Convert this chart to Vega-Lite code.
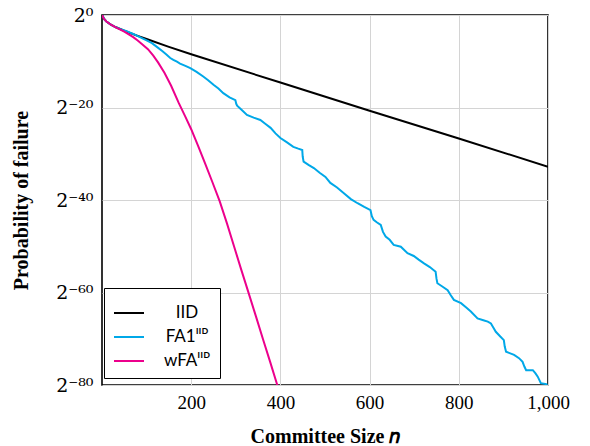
{
  "$schema": "https://vega.github.io/schema/vega-lite/v6.json",
  "width": 446,
  "height": 370,
  "autosize": "none",
  "padding": {"left": 102, "top": 15, "right": 42, "bottom": 61},
  "background": "white",
  "config": {
    "view": {"stroke": "black", "strokeWidth": 1.6},
    "axis": {
      "grid": true,
      "gridColor": "#d4d4d4",
      "gridWidth": 1,
      "domain": false,
      "ticks": false,
      "labelFont": "Liberation Serif",
      "labelFontSize": 19,
      "labelColor": "black",
      "titleFont": "Liberation Serif",
      "titleFontWeight": "bold",
      "titleColor": "black"
    }
  },
  "data": {
    "values": [
      {"series": "IID", "n": 1, "lp": 0},
      {"series": "IID", "n": 3, "lp": -0.6},
      {"series": "IID", "n": 6, "lp": -1.0},
      {"series": "IID", "n": 10, "lp": -1.4},
      {"series": "IID", "n": 20, "lp": -2.1},
      {"series": "IID", "n": 30, "lp": -2.6},
      {"series": "IID", "n": 50, "lp": -3.4},
      {"series": "IID", "n": 80, "lp": -4.5},
      {"series": "IID", "n": 100, "lp": -5.2},
      {"series": "IID", "n": 150, "lp": -6.9},
      {"series": "IID", "n": 200, "lp": -8.5},
      {"series": "IID", "n": 400, "lp": -14.6},
      {"series": "IID", "n": 600, "lp": -20.7},
      {"series": "IID", "n": 800, "lp": -26.7},
      {"series": "IID", "n": 1000, "lp": -32.8},

      {"series": "FA1ᴵᴵᴰ", "n": 1, "lp": 0},
      {"series": "FA1ᴵᴵᴰ", "n": 5, "lp": -0.9},
      {"series": "FA1ᴵᴵᴰ", "n": 10, "lp": -1.4},
      {"series": "FA1ᴵᴵᴰ", "n": 20, "lp": -2.1},
      {"series": "FA1ᴵᴵᴰ", "n": 30, "lp": -2.6},
      {"series": "FA1ᴵᴵᴰ", "n": 40, "lp": -3.0},
      {"series": "FA1ᴵᴵᴰ", "n": 55, "lp": -3.5},
      {"series": "FA1ᴵᴵᴰ", "n": 70, "lp": -4.1},
      {"series": "FA1ᴵᴵᴰ", "n": 85, "lp": -4.8},
      {"series": "FA1ᴵᴵᴰ", "n": 100, "lp": -5.5},
      {"series": "FA1ᴵᴵᴰ", "n": 112, "lp": -6.1},
      {"series": "FA1ᴵᴵᴰ", "n": 123, "lp": -6.9},
      {"series": "FA1ᴵᴵᴰ", "n": 135, "lp": -7.8},
      {"series": "FA1ᴵᴵᴰ", "n": 145, "lp": -8.6},
      {"series": "FA1ᴵᴵᴰ", "n": 153, "lp": -9.3},
      {"series": "FA1ᴵᴵᴰ", "n": 160, "lp": -9.7},
      {"series": "FA1ᴵᴵᴰ", "n": 168, "lp": -10.1},
      {"series": "FA1ᴵᴵᴰ", "n": 175, "lp": -10.5},
      {"series": "FA1ᴵᴵᴰ", "n": 187, "lp": -11.0},
      {"series": "FA1ᴵᴵᴰ", "n": 198, "lp": -11.5},
      {"series": "FA1ᴵᴵᴰ", "n": 212, "lp": -12.3},
      {"series": "FA1ᴵᴵᴰ", "n": 227, "lp": -13.3},
      {"series": "FA1ᴵᴵᴰ", "n": 238, "lp": -14.1},
      {"series": "FA1ᴵᴵᴰ", "n": 250, "lp": -15.1},
      {"series": "FA1ᴵᴵᴰ", "n": 261, "lp": -15.9},
      {"series": "FA1ᴵᴵᴰ", "n": 272, "lp": -16.9},
      {"series": "FA1ᴵᴵᴰ", "n": 286, "lp": -17.8},
      {"series": "FA1ᴵᴵᴰ", "n": 299, "lp": -18.4},
      {"series": "FA1ᴵᴵᴰ", "n": 301, "lp": -19.2},
      {"series": "FA1ᴵᴵᴰ", "n": 303, "lp": -19.6},
      {"series": "FA1ᴵᴵᴰ", "n": 314, "lp": -20.6},
      {"series": "FA1ᴵᴵᴰ", "n": 325, "lp": -21.6},
      {"series": "FA1ᴵᴵᴰ", "n": 340, "lp": -22.2},
      {"series": "FA1ᴵᴵᴰ", "n": 355, "lp": -22.7},
      {"series": "FA1ᴵᴵᴰ", "n": 366, "lp": -23.5},
      {"series": "FA1ᴵᴵᴰ", "n": 378, "lp": -24.4},
      {"series": "FA1ᴵᴵᴰ", "n": 389, "lp": -25.6},
      {"series": "FA1ᴵᴵᴰ", "n": 400, "lp": -26.6},
      {"series": "FA1ᴵᴵᴰ", "n": 414, "lp": -27.5},
      {"series": "FA1ᴵᴵᴰ", "n": 429, "lp": -28.5},
      {"series": "FA1ᴵᴵᴰ", "n": 440, "lp": -28.9},
      {"series": "FA1ᴵᴵᴰ", "n": 449, "lp": -29.2},
      {"series": "FA1ᴵᴵᴰ", "n": 450, "lp": -30.6},
      {"series": "FA1ᴵᴵᴰ", "n": 452, "lp": -31.7},
      {"series": "FA1ᴵᴵᴰ", "n": 463, "lp": -32.4},
      {"series": "FA1ᴵᴵᴰ", "n": 475, "lp": -33.1},
      {"series": "FA1ᴵᴵᴰ", "n": 488, "lp": -34.1},
      {"series": "FA1ᴵᴵᴰ", "n": 501, "lp": -35.0},
      {"series": "FA1ᴵᴵᴰ", "n": 512, "lp": -36.3},
      {"series": "FA1ᴵᴵᴰ", "n": 527, "lp": -37.3},
      {"series": "FA1ᴵᴵᴰ", "n": 543, "lp": -38.6},
      {"series": "FA1ᴵᴵᴰ", "n": 558, "lp": -39.8},
      {"series": "FA1ᴵᴵᴰ", "n": 573, "lp": -40.7},
      {"series": "FA1ᴵᴵᴰ", "n": 588, "lp": -41.5},
      {"series": "FA1ᴵᴵᴰ", "n": 602, "lp": -42.2},
      {"series": "FA1ᴵᴵᴰ", "n": 605, "lp": -43.5},
      {"series": "FA1ᴵᴵᴰ", "n": 609, "lp": -44.3},
      {"series": "FA1ᴵᴵᴰ", "n": 616, "lp": -44.8},
      {"series": "FA1ᴵᴵᴰ", "n": 625, "lp": -45.4},
      {"series": "FA1ᴵᴵᴰ", "n": 630, "lp": -46.9},
      {"series": "FA1ᴵᴵᴰ", "n": 636, "lp": -47.9},
      {"series": "FA1ᴵᴵᴰ", "n": 645, "lp": -48.6},
      {"series": "FA1ᴵᴵᴰ", "n": 654, "lp": -49.7},
      {"series": "FA1ᴵᴵᴰ", "n": 670, "lp": -50.1},
      {"series": "FA1ᴵᴵᴰ", "n": 685, "lp": -51.5},
      {"series": "FA1ᴵᴵᴰ", "n": 699, "lp": -52.1},
      {"series": "FA1ᴵᴵᴰ", "n": 710, "lp": -52.9},
      {"series": "FA1ᴵᴵᴰ", "n": 722, "lp": -53.7},
      {"series": "FA1ᴵᴵᴰ", "n": 735, "lp": -54.5},
      {"series": "FA1ᴵᴵᴰ", "n": 748, "lp": -55.5},
      {"series": "FA1ᴵᴵᴰ", "n": 750, "lp": -57.0},
      {"series": "FA1ᴵᴵᴰ", "n": 752, "lp": -58.0},
      {"series": "FA1ᴵᴵᴰ", "n": 763, "lp": -58.7},
      {"series": "FA1ᴵᴵᴰ", "n": 775, "lp": -59.5},
      {"series": "FA1ᴵᴵᴰ", "n": 782, "lp": -60.6},
      {"series": "FA1ᴵᴵᴰ", "n": 789, "lp": -61.6},
      {"series": "FA1ᴵᴵᴰ", "n": 805, "lp": -62.3},
      {"series": "FA1ᴵᴵᴰ", "n": 816, "lp": -63.2},
      {"series": "FA1ᴵᴵᴰ", "n": 827, "lp": -64.1},
      {"series": "FA1ᴵᴵᴰ", "n": 842, "lp": -65.6},
      {"series": "FA1ᴵᴵᴰ", "n": 855, "lp": -66.0},
      {"series": "FA1ᴵᴵᴰ", "n": 865, "lp": -66.3},
      {"series": "FA1ᴵᴵᴰ", "n": 872, "lp": -66.7},
      {"series": "FA1ᴵᴵᴰ", "n": 877, "lp": -67.5},
      {"series": "FA1ᴵᴵᴰ", "n": 883, "lp": -68.5},
      {"series": "FA1ᴵᴵᴰ", "n": 893, "lp": -69.5},
      {"series": "FA1ᴵᴵᴰ", "n": 901, "lp": -70.3},
      {"series": "FA1ᴵᴵᴰ", "n": 903, "lp": -71.7},
      {"series": "FA1ᴵᴵᴰ", "n": 906, "lp": -72.8},
      {"series": "FA1ᴵᴵᴰ", "n": 924, "lp": -73.5},
      {"series": "FA1ᴵᴵᴰ", "n": 935, "lp": -74.2},
      {"series": "FA1ᴵᴵᴰ", "n": 943, "lp": -75.0},
      {"series": "FA1ᴵᴵᴰ", "n": 947, "lp": -76.0},
      {"series": "FA1ᴵᴵᴰ", "n": 951, "lp": -76.8},
      {"series": "FA1ᴵᴵᴰ", "n": 966, "lp": -76.8},
      {"series": "FA1ᴵᴵᴰ", "n": 972, "lp": -77.5},
      {"series": "FA1ᴵᴵᴰ", "n": 977, "lp": -78.2},
      {"series": "FA1ᴵᴵᴰ", "n": 981, "lp": -79.0},
      {"series": "FA1ᴵᴵᴰ", "n": 984, "lp": -79.6},
      {"series": "FA1ᴵᴵᴰ", "n": 996, "lp": -79.8},
      {"series": "FA1ᴵᴵᴰ", "n": 1000, "lp": -80.3},

      {"series": "wFAᴵᴵᴰ", "n": 1, "lp": 0},
      {"series": "wFAᴵᴵᴰ", "n": 3, "lp": -0.6},
      {"series": "wFAᴵᴵᴰ", "n": 6, "lp": -1.0},
      {"series": "wFAᴵᴵᴰ", "n": 10, "lp": -1.4},
      {"series": "wFAᴵᴵᴰ", "n": 20, "lp": -2.1},
      {"series": "wFAᴵᴵᴰ", "n": 30, "lp": -2.6},
      {"series": "wFAᴵᴵᴰ", "n": 40, "lp": -3.1},
      {"series": "wFAᴵᴵᴰ", "n": 50, "lp": -3.6},
      {"series": "wFAᴵᴵᴰ", "n": 60, "lp": -4.2},
      {"series": "wFAᴵᴵᴰ", "n": 70, "lp": -4.8},
      {"series": "wFAᴵᴵᴰ", "n": 80, "lp": -5.5},
      {"series": "wFAᴵᴵᴰ", "n": 90, "lp": -6.3},
      {"series": "wFAᴵᴵᴰ", "n": 103, "lp": -7.4},
      {"series": "wFAᴵᴵᴰ", "n": 115, "lp": -8.8},
      {"series": "wFAᴵᴵᴰ", "n": 126, "lp": -10.3},
      {"series": "wFAᴵᴵᴰ", "n": 140, "lp": -12.5},
      {"series": "wFAᴵᴵᴰ", "n": 155, "lp": -15.3},
      {"series": "wFAᴵᴵᴰ", "n": 172, "lp": -19.0},
      {"series": "wFAᴵᴵᴰ", "n": 186, "lp": -21.8},
      {"series": "wFAᴵᴵᴰ", "n": 200, "lp": -24.7},
      {"series": "wFAᴵᴵᴰ", "n": 215, "lp": -28.2},
      {"series": "wFAᴵᴵᴰ", "n": 230, "lp": -31.8},
      {"series": "wFAᴵᴵᴰ", "n": 247, "lp": -36.0},
      {"series": "wFAᴵᴵᴰ", "n": 264, "lp": -40.3},
      {"series": "wFAᴵᴵᴰ", "n": 280, "lp": -45.0},
      {"series": "wFAᴵᴵᴰ", "n": 296, "lp": -50.0},
      {"series": "wFAᴵᴵᴰ", "n": 312, "lp": -55.0},
      {"series": "wFAᴵᴵᴰ", "n": 329, "lp": -60.2},
      {"series": "wFAᴵᴵᴰ", "n": 345, "lp": -65.1},
      {"series": "wFAᴵᴵᴰ", "n": 361, "lp": -70.1},
      {"series": "wFAᴵᴵᴰ", "n": 377, "lp": -75.0},
      {"series": "wFAᴵᴵᴰ", "n": 393, "lp": -80.0},
      {"series": "wFAᴵᴵᴰ", "n": 396, "lp": -81.0}
    ]
  },
  "mark": {"type": "line", "strokeWidth": 2, "clip": true},
  "encoding": {
    "x": {
      "field": "n",
      "type": "quantitative",
      "scale": {"domain": [0, 1000], "nice": false, "zero": false},
      "axis": {
        "values": [200, 400, 600, 800, 1000],
        "format": ",d",
        "labelFlush": false,
        "labelPadding": 8,
        "title": "Committee Size 𝑛",
        "titleFontSize": 20,
        "titleX": 223,
        "titleY": 51,
        "titleAlign": "center",
        "titleBaseline": "middle"
      }
    },
    "y": {
      "field": "lp",
      "type": "quantitative",
      "scale": {"domain": [-80, 0], "nice": false, "zero": false},
      "axis": {
        "values": [0, -20, -40, -60, -80],
        "labelExpr": "datum.value == 0 ? '2⁰' : datum.value == -20 ? '2⁻²⁰' : datum.value == -40 ? '2⁻⁴⁰' : datum.value == -60 ? '2⁻⁶⁰' : '2⁻⁸⁰'",
        "labelFont": "DejaVu Serif",
        "labelFontSize": 19,
        "labelFlush": false,
        "labelPadding": 9,
        "title": "Probability of failure",
        "titleFontSize": 20,
        "titleX": -81,
        "titleY": 185,
        "titleAlign": "center",
        "titleBaseline": "middle"
      }
    },
    "color": {
      "field": "series",
      "type": "nominal",
      "sort": ["IID", "FA1ᴵᴵᴰ", "wFAᴵᴵᴰ"],
      "scale": {
        "domain": ["IID", "FA1ᴵᴵᴰ", "wFAᴵᴵᴰ"],
        "range": ["#000000", "#00a8e8", "#ec008c"]
      },
      "legend": {
        "title": null,
        "orient": "none",
        "legendX": 2,
        "legendY": 273,
        "fillColor": "white",
        "strokeColor": "black",
        "padding": 9,
        "symbolType": "stroke",
        "symbolSize": 900,
        "symbolStrokeWidth": 2,
        "rowPadding": 0,
        "labelFont": "Lato",
        "labelFontSize": 17,
        "labelColor": "black",
        "labelAlign": "center",
        "labelOffset": 42
      }
    }
  }
}
